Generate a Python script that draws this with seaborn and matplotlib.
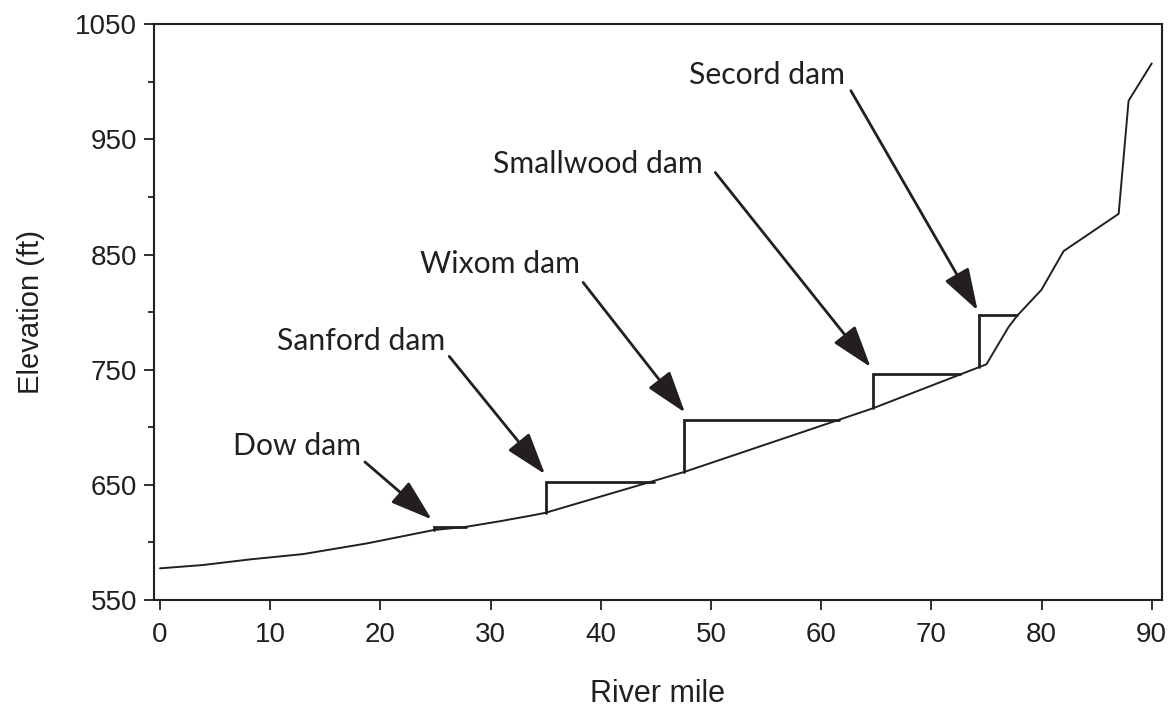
import matplotlib
matplotlib.use("Agg")
import matplotlib.pyplot as plt
from matplotlib.patches import ArrowStyle
from matplotlib.ticker import MultipleLocator
import seaborn as sns

# River profile (river mile, elevation in ft)
profile_mile = [0, 3.9, 8.2, 13.0, 18.8, 24.8, 27.8, 30.9, 33.9, 35.0,
                47.6, 64.7, 75.0, 77.0, 77.8, 80.0, 82.0, 87.0, 87.9, 90.0]
profile_elev = [577.5, 580.4, 585.3, 589.9, 599.2, 610.7, 613.6, 618.5, 623.7, 625.8,
                661.3, 716.5, 754.7, 787.0, 797.0, 819.5, 853.0, 885.4, 983.6, 1016.0]

# Dams: location, toe elevation, pool elevation, upstream end of pool
dam_names = ["Dow dam", "Sanford dam", "Wixom dam", "Smallwood dam", "Secord dam"]
dam_mile = [24.9, 35.0, 47.6, 64.7, 74.3]
dam_base = [610.7, 625.8, 661.3, 716.5, 752.4]
dam_pool = [613.6, 652.6, 706.7, 746.0, 797.2]
dam_pool_end = [27.8, 44.8, 61.6, 72.6, 77.8]

# label anchor (left, baseline) and arrow tail/tip in data units
label_x = [6.6, 10.6, 23.6, 30.2, 48.0]
label_y = [675.8, 766.8, 833.9, 921.0, 998.1]
arrow_tail = [(18.6, 669.9), (26.25, 761.6), (38.4, 825.8), (50.4, 921.2), (62.7, 992.3)]
arrow_tip = [(24.66, 620.0), (34.94, 659.3), (47.64, 712.8), (64.49, 752.3), (74.2, 801.5)]

ink = "#231f20"

sns.set_style("ticks")
plt.rcParams["font.family"] = ["Liberation Sans", "DejaVu Sans"]

fig = plt.figure(figsize=(11.73, 7.10), dpi=100)
ax = fig.add_axes([0.1313, 0.1549, 0.8593, 0.8109])

sns.lineplot(x=profile_mile, y=profile_elev, sort=False, estimator=None,
             color=ink, linewidth=1.4, ax=ax)

for m, b, p, e in zip(dam_mile, dam_base, dam_pool, dam_pool_end):
    ax.plot([m, m, e], [b, p, p], color=ink, linewidth=2.0, solid_joinstyle="miter")

head = ArrowStyle("-|>", head_length=2.6, head_width=0.85)
for name, lx, ly, tail, tip in zip(dam_names, label_x, label_y, arrow_tail, arrow_tip):
    ax.text(lx, ly, name, fontsize=21.7, family=["Lato", "DejaVu Sans"],
            color=ink, ha="left", va="baseline")
    ax.annotate("", xy=tip, xytext=tail,
                arrowprops=dict(arrowstyle=head, mutation_scale=10, color=ink,
                                lw=2.0, shrinkA=0, shrinkB=0))

ax.set_xlim(-0.54, 90.93)
ax.set_ylim(550, 1050)
ax.xaxis.set_major_locator(MultipleLocator(10))
ax.yaxis.set_major_locator(MultipleLocator(100))
ax.yaxis.set_minor_locator(MultipleLocator(50))
ax.set_yticks(range(550, 1051, 100))

for s in ax.spines.values():
    s.set_linewidth(1.5)
    s.set_color(ink)
    s.set_visible(True)
ax.tick_params(axis="both", which="major", direction="out", length=7, width=1.3,
               labelsize=20, colors=ink, pad=5)
ax.tick_params(axis="x", which="major", pad=9)
ax.tick_params(axis="y", which="minor", direction="out", length=4.5, width=1.3, colors=ink)

ax.set_xlabel("River mile", fontsize=22, color=ink, labelpad=22)
ax.set_ylabel("Elevation (ft)", fontsize=21, color=ink, labelpad=22)

fig.savefig("out.png", dpi=100)
